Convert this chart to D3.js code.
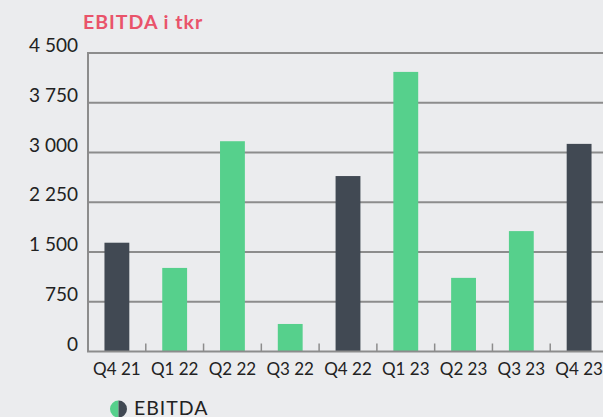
<!DOCTYPE html>
<html>
<head>
<meta charset="utf-8">
<script src="https://cdn.jsdelivr.net/npm/d3@7"></script>
<style>
  body { margin: 0; background: #ebecee; }
  svg { display: block; font-family: Lato, "Open Sans", sans-serif; }
</style>
</head>
<body>
<div id="chart"></div>
<script>
// data
const quarters = ["Q4 21", "Q1 22", "Q2 22", "Q3 22", "Q4 22", "Q1 23", "Q2 23", "Q3 23", "Q4 23"];
const ebitda = [1640, 1260, 3170, 415, 2645, 4215, 1110, 1815, 3130];
const isQ4 = [true, false, false, false, true, false, false, false, true];
const yTicks = [0, 750, 1500, 2250, 3000, 3750, 4500];

const W = 603, H = 417;
const plotLeft = 88, plotRight = 608, plotTop = 53, plotBottom = 351.5;
const green = "#56d08c", dark = "#414953";

const svg = d3.select("#chart").append("svg")
  .attr("width", W).attr("height", H);

const x = d3.scaleBand()
  .domain(quarters)
  .range([plotLeft, plotRight])
  .paddingInner(0.57)
  .paddingOuter(0.285);

const y = d3.scaleLinear()
  .domain([0, 4500])
  .range([plotBottom, plotTop]);

const fmt = v => d3.format(",")(v).replace(/,/g, " ");

// gridlines
svg.append("g")
  .selectAll("line")
  .data(yTicks.filter(d => d > 0))
  .enter().append("line")
  .attr("x1", plotLeft).attr("x2", W)
  .attr("y1", d => y(d)).attr("y2", d => y(d))
  .attr("stroke", "#8c8c8c")
  .attr("stroke-width", 2);

// y labels
svg.append("g")
  .selectAll("text")
  .data(yTicks)
  .enter().append("text")
  .attr("x", 78)
  .attr("y", d => y(d) - 1)
  .attr("text-anchor", "end")
  .attr("font-size", 19)
  .attr("fill", "#222")
  .text(d => fmt(d));

// bars
svg.append("g")
  .selectAll("rect")
  .data(quarters)
  .enter().append("rect")
  .attr("x", d => x(d))
  .attr("width", x.bandwidth())
  .attr("y", (d, i) => y(ebitda[i]))
  .attr("height", (d, i) => y(0) - y(ebitda[i]))
  .attr("fill", (d, i) => isQ4[i] ? dark : green);

// axis lines
svg.append("line")
  .attr("x1", plotLeft).attr("x2", plotLeft)
  .attr("y1", plotTop - 1).attr("y2", plotBottom)
  .attr("stroke", "#8c8c8c").attr("stroke-width", 2);
svg.append("line")
  .attr("x1", plotLeft - 1).attr("x2", W)
  .attr("y1", plotBottom).attr("y2", plotBottom)
  .attr("stroke", "#8c8c8c").attr("stroke-width", 2);

// tick marks between bands
const step = x.step();
svg.append("g")
  .selectAll("line")
  .data(quarters.slice(1))
  .enter().append("line")
  .attr("x1", d => x(d) - step * 0.285)
  .attr("x2", d => x(d) - step * 0.285)
  .attr("y1", plotBottom - 8).attr("y2", plotBottom)
  .attr("stroke", "#8c8c8c").attr("stroke-width", 1.5);

// x labels
svg.append("g")
  .selectAll("text")
  .data(quarters)
  .enter().append("text")
  .attr("x", d => x(d) + x.bandwidth() / 2)
  .attr("y", 375)
  .attr("text-anchor", "middle")
  .attr("font-size", 17)
  .attr("fill", "#222")
  .text(d => d);

// title
svg.append("text")
  .attr("x", 83).attr("y", 29)
  .attr("font-size", 19.5)
  .attr("font-weight", "bold")
  .attr("letter-spacing", 1)
  .attr("fill", "#e9536a")
  .text("EBITDA i tkr");

// legend: half green, half dark circle
const lg = svg.append("g").attr("transform", "translate(118.5,409)");
lg.append("path")
  .attr("d", d3.arc()({innerRadius: 0, outerRadius: 8.5, startAngle: Math.PI, endAngle: 2 * Math.PI}))
  .attr("fill", green);
lg.append("path")
  .attr("d", d3.arc()({innerRadius: 0, outerRadius: 8.5, startAngle: 0, endAngle: Math.PI}))
  .attr("fill", dark);
svg.append("text")
  .attr("x", 134).attr("y", 415)
  .attr("font-size", 19.5)
  .attr("letter-spacing", 1)
  .attr("fill", "#222")
  .text("EBITDA");
</script>
</body>
</html>
